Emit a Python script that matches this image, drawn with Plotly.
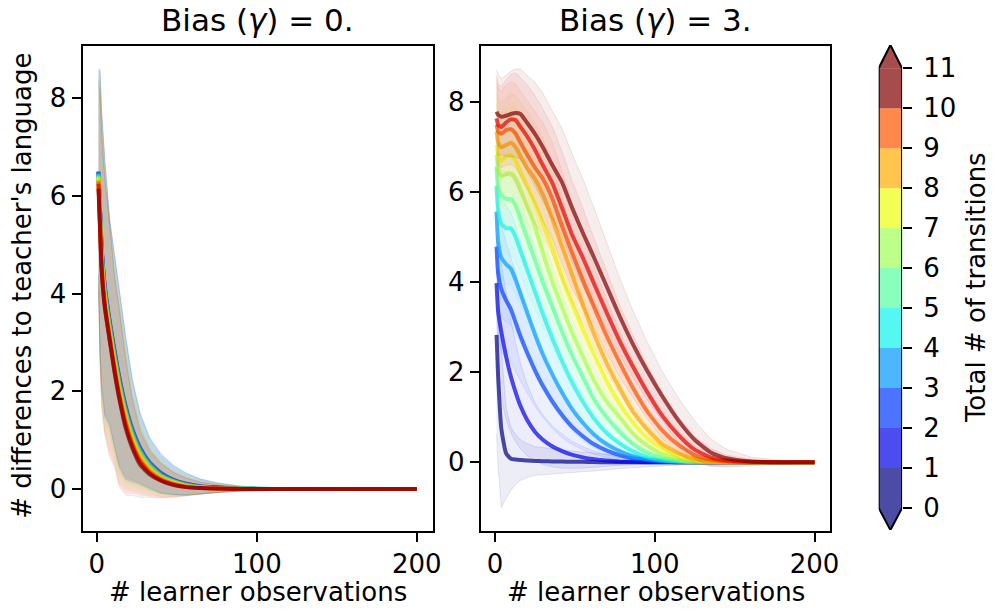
import numpy as np
import plotly.graph_objects as go

# ---------------- data ----------------
transitions = list(range(12))          # total # of transitions (0..11)
cbar_ticks = list(range(12))

# Bias (gamma) = 0 panel
x_g0 = [1, 2, 3, 5, 8, 11, 14, 18, 22, 27, 33, 40, 48, 56, 65, 75, 90, 110, 140, 170, 200]
mean_g0 = [
    [6.45, 5.65, 4.90, 4.10, 3.40, 2.80, 2.25, 1.65, 1.20, 0.82, 0.52, 0.31, 0.18, 0.10, 0.05, 0.03, 0.01, 0, 0, 0, 0],
    [6.50, 5.70, 4.95, 4.15, 3.45, 2.85, 2.30, 1.70, 1.25, 0.85, 0.55, 0.33, 0.19, 0.11, 0.06, 0.03, 0.01, 0, 0, 0, 0],
    [6.50, 5.68, 4.92, 4.12, 3.42, 2.82, 2.27, 1.67, 1.22, 0.83, 0.53, 0.32, 0.18, 0.10, 0.05, 0.03, 0.01, 0, 0, 0, 0],
    [6.48, 5.65, 4.88, 4.08, 3.38, 2.78, 2.23, 1.63, 1.19, 0.80, 0.51, 0.30, 0.17, 0.09, 0.05, 0.02, 0.01, 0, 0, 0, 0],
    [6.45, 5.60, 4.83, 4.03, 3.33, 2.73, 2.18, 1.59, 1.15, 0.77, 0.49, 0.28, 0.16, 0.08, 0.04, 0.02, 0.01, 0, 0, 0, 0],
    [6.42, 5.56, 4.78, 3.98, 3.28, 2.68, 2.13, 1.55, 1.11, 0.74, 0.46, 0.27, 0.15, 0.08, 0.04, 0.02, 0.01, 0, 0, 0, 0],
    [6.40, 5.52, 4.73, 3.93, 3.23, 2.63, 2.08, 1.50, 1.07, 0.70, 0.44, 0.25, 0.14, 0.07, 0.03, 0.02, 0.01, 0, 0, 0, 0],
    [6.38, 5.48, 4.68, 3.88, 3.19, 2.58, 2.03, 1.46, 1.03, 0.67, 0.41, 0.23, 0.13, 0.06, 0.03, 0.01, 0, 0, 0, 0, 0],
    [6.33, 5.43, 4.62, 3.83, 3.14, 2.53, 1.98, 1.41, 0.98, 0.63, 0.38, 0.21, 0.11, 0.05, 0.03, 0.01, 0, 0, 0, 0, 0],
    [6.30, 5.40, 4.57, 3.78, 3.10, 2.48, 1.93, 1.36, 0.94, 0.59, 0.35, 0.20, 0.10, 0.05, 0.02, 0.01, 0, 0, 0, 0, 0],
    [6.25, 5.35, 4.52, 3.74, 3.07, 2.44, 1.89, 1.30, 0.90, 0.55, 0.33, 0.18, 0.09, 0.04, 0.02, 0.01, 0, 0, 0, 0, 0],
    [6.15, 5.30, 4.45, 3.70, 3.05, 2.40, 1.85, 1.25, 0.85, 0.50, 0.30, 0.17, 0.08, 0.04, 0.02, 0.01, 0, 0, 0, 0, 0],
]
sd_g0 = [
    [2.1, 2.9, 2.8, 2.6, 2.1, 1.95, 1.8, 1.45, 1.05, 0.72, 0.52, 0.4, 0.3, 0.22, 0.15, 0.1, 0.05, 0.02, 0.01, 0.0, 0.0],
    [2.1, 2.9, 2.8, 2.6, 2.1, 1.95, 1.8, 1.45, 1.05, 0.72, 0.52, 0.4, 0.3, 0.22, 0.15, 0.1, 0.05, 0.02, 0.01, 0.0, 0.0],
    [2.1, 2.9, 2.8, 2.6, 2.1, 1.95, 1.8, 1.44, 1.04, 0.71, 0.51, 0.39, 0.29, 0.22, 0.15, 0.1, 0.05, 0.02, 0.01, 0.0, 0.0],
    [2.1, 2.85, 2.8, 2.6, 2.1, 1.95, 1.8, 1.43, 1.03, 0.7, 0.5, 0.38, 0.28, 0.21, 0.14, 0.09, 0.05, 0.02, 0.01, 0.0, 0.0],
    [2.1, 2.85, 2.8, 2.6, 2.15, 1.95, 1.8, 1.42, 1.02, 0.7, 0.5, 0.38, 0.28, 0.21, 0.14, 0.09, 0.05, 0.02, 0.01, 0.0, 0.0],
    [2.1, 2.85, 2.8, 2.6, 2.15, 1.95, 1.8, 1.41, 1.01, 0.69, 0.49, 0.37, 0.27, 0.2, 0.14, 0.09, 0.05, 0.02, 0.01, 0.0, 0.0],
    [2.1, 2.85, 2.8, 2.6, 2.2, 1.95, 1.8, 1.4, 1.0, 0.69, 0.49, 0.37, 0.27, 0.2, 0.13, 0.09, 0.05, 0.02, 0.01, 0.0, 0.0],
    [2.1, 2.8, 2.8, 2.6, 2.2, 1.95, 1.8, 1.4, 1.0, 0.68, 0.48, 0.36, 0.26, 0.19, 0.13, 0.08, 0.04, 0.02, 0.01, 0.0, 0.0],
    [2.1, 2.8, 2.8, 2.6, 2.25, 1.95, 1.8, 1.39, 0.99, 0.68, 0.48, 0.36, 0.26, 0.19, 0.13, 0.08, 0.04, 0.02, 0.01, 0.0, 0.0],
    [2.1, 2.8, 2.8, 2.6, 2.3, 1.95, 1.8, 1.38, 0.98, 0.67, 0.47, 0.35, 0.25, 0.18, 0.12, 0.08, 0.04, 0.02, 0.01, 0.0, 0.0],
    [2.1, 2.8, 2.8, 2.6, 2.35, 1.95, 1.8, 1.38, 0.98, 0.67, 0.47, 0.35, 0.25, 0.18, 0.12, 0.08, 0.04, 0.02, 0.01, 0.0, 0.0],
    [2.1, 2.8, 2.8, 2.6, 2.4, 1.95, 1.8, 1.38, 0.98, 0.67, 0.47, 0.35, 0.25, 0.18, 0.12, 0.08, 0.04, 0.02, 0.01, 0.0, 0.0],
]

# Bias (gamma) = 3 panel
x_g3 = [1, 2, 4, 7, 10, 13, 16, 20, 25, 30, 36, 42, 48, 55, 62, 70, 78, 86, 95, 105, 115, 125, 135, 145, 160, 180, 200]
mean_g3 = [
    [2.83, 1.90, 0.75, 0.20, 0.08, 0.06, 0.05, 0.04, 0.03, 0.025, 0.02, 0.015, 0.01, 0.01, 0.005, 0, 0, 0, 0, 0, 0, 0, 0, 0, 0, 0, 0],
    [3.98, 3.35, 2.90, 2.35, 1.90, 1.55, 1.25, 0.95, 0.68, 0.50, 0.35, 0.25, 0.17, 0.11, 0.07, 0.04, 0.02, 0.01, 0, 0, 0, 0, 0, 0, 0, 0, 0],
    [4.79, 4.20, 3.85, 3.60, 3.40, 3.10, 2.80, 2.45, 2.05, 1.70, 1.35, 1.05, 0.80, 0.58, 0.40, 0.26, 0.16, 0.09, 0.05, 0.02, 0, 0, 0, 0, 0, 0, 0],
    [5.57, 4.90, 4.55, 4.40, 4.30, 4.05, 3.75, 3.35, 2.85, 2.40, 1.95, 1.55, 1.20, 0.88, 0.62, 0.40, 0.25, 0.14, 0.07, 0.03, 0.01, 0, 0, 0, 0, 0, 0],
    [6.14, 5.60, 5.30, 5.20, 5.20, 5.00, 4.70, 4.30, 3.80, 3.30, 2.75, 2.25, 1.80, 1.35, 0.98, 0.65, 0.42, 0.25, 0.12, 0.05, 0.02, 0, 0, 0, 0, 0, 0],
    [6.57, 6.10, 5.95, 5.85, 5.85, 5.70, 5.40, 5.00, 4.50, 4.00, 3.45, 2.90, 2.40, 1.90, 1.40, 1.00, 0.68, 0.42, 0.22, 0.10, 0.04, 0.01, 0, 0, 0, 0, 0],
    [6.83, 6.50, 6.35, 6.40, 6.42, 6.30, 6.05, 5.70, 5.25, 4.65, 4.00, 3.45, 2.90, 2.35, 1.82, 1.35, 1.00, 0.65, 0.38, 0.18, 0.08, 0.03, 0.01, 0, 0, 0, 0],
    [7.05, 6.80, 6.70, 6.80, 6.82, 6.70, 6.45, 6.15, 5.75, 5.30, 4.75, 4.10, 3.55, 2.95, 2.40, 1.80, 1.30, 0.90, 0.55, 0.30, 0.13, 0.05, 0.02, 0, 0, 0, 0],
    [7.35, 7.10, 7.00, 7.05, 7.10, 7.00, 6.80, 6.55, 6.30, 5.95, 5.40, 4.80, 4.20, 3.50, 2.85, 2.20, 1.65, 1.15, 0.75, 0.40, 0.20, 0.08, 0.03, 0.01, 0, 0, 0],
    [7.50, 7.35, 7.30, 7.38, 7.40, 7.30, 7.10, 6.85, 6.55, 6.30, 5.85, 5.25, 4.68, 4.05, 3.45, 2.80, 2.22, 1.68, 1.15, 0.70, 0.38, 0.16, 0.06, 0.02, 0, 0, 0],
    [7.64, 7.50, 7.45, 7.55, 7.62, 7.60, 7.45, 7.25, 6.95, 6.60, 6.20, 5.65, 5.08, 4.55, 3.97, 3.32, 2.70, 2.15, 1.58, 1.02, 0.60, 0.28, 0.11, 0.04, 0.01, 0, 0],
    [7.79, 7.72, 7.68, 7.70, 7.74, 7.76, 7.74, 7.55, 7.30, 7.00, 6.60, 6.22, 5.68, 5.10, 4.55, 3.90, 3.25, 2.65, 2.05, 1.45, 0.92, 0.50, 0.22, 0.09, 0.02, 0, 0],
]
sd_g3 = [
    [2.2, 2.0, 1.75, 1.0, 0.7, 0.55, 0.45, 0.38, 0.32, 0.3, 0.28, 0.26, 0.24, 0.22, 0.2, 0.17, 0.14, 0.12, 0.1, 0.08, 0.06, 0.04, 0.03, 0.02, 0.01, 0.01, 0.01],
    [1.6, 1.6, 1.5, 1.4, 1.25, 1.1, 0.95, 0.8, 0.65, 0.55, 0.45, 0.38, 0.3, 0.24, 0.18, 0.13, 0.09, 0.06, 0.04, 0.02, 0.01, 0.01, 0.01, 0.01, 0.01, 0.01, 0.01],
    [1.4, 1.4, 1.4, 1.3, 1.2, 1.1, 1.0, 0.9, 0.8, 0.7, 0.6, 0.5, 0.4, 0.3, 0.22, 0.15, 0.1, 0.06, 0.04, 0.02, 0.01, 0.01, 0.01, 0.01, 0.01, 0.01, 0.01],
    [1.3, 1.3, 1.3, 1.3, 1.25, 1.2, 1.1, 1.0, 0.9, 0.8, 0.7, 0.6, 0.5, 0.4, 0.3, 0.22, 0.15, 0.1, 0.06, 0.04, 0.02, 0.01, 0.01, 0.01, 0.01, 0.01, 0.01],
    [1.25, 1.2, 1.2, 1.25, 1.25, 1.25, 1.2, 1.1, 1.0, 0.9, 0.8, 0.7, 0.6, 0.5, 0.4, 0.3, 0.22, 0.15, 0.1, 0.06, 0.03, 0.02, 0.01, 0.01, 0.01, 0.01, 0.01],
    [1.2, 1.15, 1.15, 1.2, 1.25, 1.25, 1.25, 1.2, 1.1, 1.0, 0.9, 0.8, 0.7, 0.6, 0.5, 0.4, 0.3, 0.22, 0.15, 0.1, 0.06, 0.03, 0.02, 0.01, 0.01, 0.01, 0.01],
    [1.15, 1.1, 1.1, 1.15, 1.2, 1.25, 1.25, 1.25, 1.2, 1.1, 1.0, 0.9, 0.8, 0.7, 0.6, 0.5, 0.4, 0.3, 0.2, 0.12, 0.07, 0.04, 0.02, 0.01, 0.01, 0.01, 0.01],
    [1.1, 1.05, 1.05, 1.1, 1.15, 1.2, 1.25, 1.25, 1.25, 1.2, 1.1, 1.0, 0.9, 0.8, 0.7, 0.6, 0.5, 0.4, 0.3, 0.2, 0.12, 0.07, 0.04, 0.02, 0.01, 0.01, 0.01],
    [1.05, 1.0, 1.0, 1.05, 1.1, 1.15, 1.2, 1.25, 1.25, 1.25, 1.2, 1.1, 1.0, 0.9, 0.8, 0.7, 0.6, 0.5, 0.4, 0.3, 0.2, 0.12, 0.07, 0.04, 0.02, 0.01, 0.01],
    [1.0, 0.95, 0.95, 1.0, 1.05, 1.1, 1.15, 1.2, 1.25, 1.25, 1.25, 1.2, 1.1, 1.0, 0.9, 0.8, 0.7, 0.6, 0.5, 0.4, 0.3, 0.2, 0.12, 0.07, 0.04, 0.02, 0.01],
    [0.95, 0.9, 0.9, 0.95, 1.0, 1.05, 1.1, 1.15, 1.2, 1.25, 1.25, 1.25, 1.2, 1.1, 1.0, 0.9, 0.8, 0.7, 0.6, 0.5, 0.4, 0.3, 0.2, 0.12, 0.06, 0.03, 0.02],
    [0.93, 0.9, 0.85, 0.9, 0.95, 0.98, 1.0, 1.05, 1.15, 1.2, 1.2, 1.2, 1.2, 1.2, 1.1, 0.95, 0.85, 0.75, 0.65, 0.55, 0.5, 0.42, 0.3, 0.2, 0.1, 0.04, 0.02],
]

# ---------------- style helpers ----------------
W, H = 998, 609
FONT = "DejaVu Sans"
BAND_ALPHA = {"x": 0.05, "x2": 0.07}
LINE_ALPHA = 0.7


def jet(v):
    r = np.interp(v, [0, 0.35, 0.66, 0.89, 1], [0, 0, 1, 1, 0.5])
    g = np.interp(v, [0, 0.125, 0.375, 0.64, 0.91, 1], [0, 0, 1, 1, 0, 0])
    b = np.interp(v, [0, 0.11, 0.34, 0.65, 1], [0.5, 1, 1, 0, 0])
    return int(round(r * 255)), int(round(g * 255)), int(round(b * 255))


def rgba(v, a):
    r, g, b = jet(v)
    return f"rgba({r},{g},{b},{a})"


def px_x(p):
    return p / W


def px_y(p):
    return 1 - p / H


fig = go.Figure()

ncol = len(transitions)
panels = [
    ("x", "y", x_g0, mean_g0, sd_g0),
    ("x2", "y2", x_g3, mean_g3, sd_g3),
]
for xa, ya, xs, means, sds in panels:
    for k in transitions:
        m = np.array(means[k], dtype=float)
        s = np.array(sds[k], dtype=float)
        up = m + s
        lo = m - s
        v = k / (ncol - 1)
        fig.add_trace(go.Scatter(
            x=list(xs) + list(xs)[::-1], y=list(up) + list(lo)[::-1],
            fill="toself", fillcolor=rgba(v, BAND_ALPHA[xa]), mode="lines",
            line=dict(color=rgba(v, BAND_ALPHA[xa] + 0.03), width=1),
            xaxis=xa, yaxis=ya, hoverinfo="skip", showlegend=False))
        fig.add_trace(go.Scatter(
            x=xs, y=m, mode="lines",
            line=dict(color=rgba(v, LINE_ALPHA), width=4, shape="spline", smoothing=0.5),
            xaxis=xa, yaxis=ya, showlegend=False))

# ---------------- colorbar (drawn on its own axis) ----------------
nbins = len(cbar_ticks) - 1
for i in range(nbins):
    # BoundaryNorm mapping of 11 bins onto the 12 listed colours
    cidx = int(i * (ncol - 1) / (nbins - 1))
    fig.add_trace(go.Bar(
        x=[0.5], y=[1], base=[cbar_ticks[i]], width=1,
        marker=dict(color=rgba(cidx / (ncol - 1), LINE_ALPHA), line=dict(width=0)),
        xaxis="x3", yaxis="y3", showlegend=False, hoverinfo="skip"))
# extension triangles
fig.add_trace(go.Scatter(x=[0, 1, 0.5, 0], y=[0, 0, -0.55, 0], fill="toself",
                         fillcolor=rgba(0, LINE_ALPHA), mode="none",
                         xaxis="x3", yaxis="y3", showlegend=False, hoverinfo="skip"))
fig.add_trace(go.Scatter(x=[0, 1, 0.5, 0], y=[11, 11, 11.58, 11], fill="toself",
                         fillcolor=rgba(1, LINE_ALPHA), mode="none",
                         xaxis="x3", yaxis="y3", showlegend=False, hoverinfo="skip"))
# outline
fig.add_trace(go.Scatter(x=[0.5, 1, 1, 0.5, 0, 0, 0.5], y=[-0.55, 0, 11, 11.58, 11, 0, -0.55],
                         mode="lines", line=dict(color="black", width=2),
                         xaxis="x3", yaxis="y3", showlegend=False, hoverinfo="skip"))

axis_common = dict(showline=True, mirror=True, linecolor="black", linewidth=2,
                   ticks="outside", ticklen=9, tickwidth=2, tickcolor="black",
                   showgrid=False, zeroline=False,
                   tickfont=dict(family=FONT, size=26, color="black"))

fig.update_layout(
    width=W, height=H, margin=dict(l=0, r=0, t=0, b=0),
    paper_bgcolor="white", plot_bgcolor="white", showlegend=False,
    barmode="overlay",
    xaxis=dict(domain=[px_x(83.3), px_x(436.7)], range=[-8.95, 209.95],
               tickvals=[0, 100, 200], anchor="y", **axis_common),
    yaxis=dict(domain=[px_y(530.7), px_y(46)], range=[-0.852, 9.07],
               tickvals=[0, 2, 4, 6, 8], anchor="x", **axis_common),
    xaxis2=dict(domain=[px_x(485), px_x(838)], range=[-8.95, 209.95],
                tickvals=[0, 100, 200], anchor="y2", **axis_common),
    yaxis2=dict(domain=[px_y(530.7), px_y(46)], range=[-1.52, 9.25],
                tickvals=[0, 2, 4, 6, 8], anchor="x2", **axis_common),
    xaxis3=dict(domain=[px_x(886.7), px_x(910.3)], range=[0, 1], anchor="y3",
                visible=False, fixedrange=True),
    yaxis3=dict(domain=[px_y(530), px_y(45)], range=[-0.55, 11.58], anchor="x3",
                side="right", tickvals=cbar_ticks, ticktext=[str(t) for t in cbar_ticks],
                ticks="outside", ticklen=9, tickwidth=2, tickcolor="black",
                ticklabelstandoff=6,
                showline=False, showgrid=False, zeroline=False,
                tickfont=dict(family=FONT, size=26, color="black")),
)

ann_font = dict(family=FONT, size=26, color="black")
fig.add_annotation(text="Bias (<i>γ</i>) = 0.", x=px_x(260), y=px_y(20), xref="paper", yref="paper",
                   showarrow=False, xanchor="center", yanchor="middle",
                   font=dict(family=FONT, size=31, color="black"))
fig.add_annotation(text="Bias (<i>γ</i>) = 3.", x=px_x(661.5), y=px_y(20), xref="paper", yref="paper",
                   showarrow=False, xanchor="center", yanchor="middle",
                   font=dict(family=FONT, size=31, color="black"))
fig.add_annotation(text="# learner observations", x=px_x(260), y=px_y(592), xref="paper", yref="paper",
                   showarrow=False, xanchor="center", yanchor="middle", font=ann_font)
fig.add_annotation(text="# learner observations", x=px_x(661.5), y=px_y(592), xref="paper", yref="paper",
                   showarrow=False, xanchor="center", yanchor="middle", font=ann_font)
fig.add_annotation(text="# differences to teacher's language", x=px_x(22), y=px_y(286),
                   xref="paper", yref="paper", showarrow=False, textangle=-90,
                   xanchor="center", yanchor="middle", font=ann_font)
fig.add_annotation(text="Total # of transitions", x=px_x(985), y=px_y(288),
                   xref="paper", yref="paper", showarrow=False, textangle=-90,
                   xanchor="center", yanchor="middle", font=ann_font)

fig.write_html("out.html")
